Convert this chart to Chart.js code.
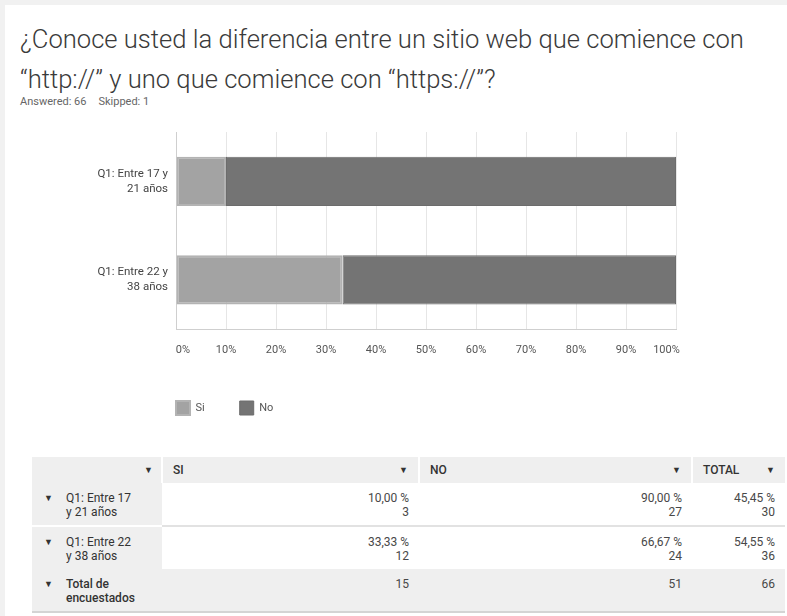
<!DOCTYPE html>
<html lang="es">
<head>
<meta charset="utf-8">
<script src="https://cdn.jsdelivr.net/npm/chart.js@4/dist/chart.umd.min.js"></script>
<style>
  html, body { margin: 0; padding: 0; }
  body { width: 787px; height: 616px; background: #f1f1f1; font-family: Roboto, "Noto Sans", sans-serif; overflow: hidden; }
  #panel { position: absolute; left: 5px; top: 5px; width: 782px; height: 611px; background: #fff; }
  h1 { position: absolute; left: 15px; top: 14px; margin: 0; width: 760px; font-weight: 300; font-size: 25.6px; line-height: 40px; color: #3a3a3a; }
  #meta { position: absolute; left: 15px; top: 90px; font-size: 11px; color: #666; }
  #meta span + span { margin-left: 12px; }
  #chart-wrap { position: absolute; left: -5px; top: 115px; width: 787px; height: 305px; }
  table { position: absolute; left: 27px; top: 452px; width: 753px; border-collapse: collapse; font-size: 12px; color: #484848; }
  th, td { padding: 0 10px; vertical-align: top; }
  th { background: #efefef; height: 26px; text-align: left; font-weight: 500; color: #333; border-left: 2px solid #fff; line-height: 26px; }
  th:first-child { border-left: none; }
  th .arr, td .arr { font-size: 9px; color: #333; }
  th .arr { float: right; }
  td { text-align: right; line-height: 14px; padding-top: 8px; height: 34px; }
  td.lbl { text-align: left; background: #efefef; color: #333; padding-left: 12px; }
  td.lbl .arr { display: inline-block; width: 22px; vertical-align: top; }
  td.lbl .txt { display: inline-block; }
  tr.r1 td { border-bottom: 2px solid #e2e2e2; }
  tr.r1 td.lbl { border-bottom: 2px solid #fff; }
  tr.tot td { background: #efefef; border-bottom: 2px solid #d4d4d4; height: 34px; }
</style>
</head>
<body>
<div id="panel">
  <h1>¿Conoce usted la diferencia entre un sitio web que comience con “http://” y uno que comience con “https://”?</h1>
  <div id="meta"><span id="answered"></span><span id="skipped"></span></div>
  <div id="chart-wrap"><canvas id="survey-chart"></canvas></div>
  <table id="survey-table"></table>
</div>
<script>
// answer groups and values
const groups = [['Q1: Entre 17 y', '21 años'], ['Q1: Entre 22 y', '38 años']];
const groupRows = [['Q1: Entre 17', 'y 21 años'], ['Q1: Entre 22', 'y 38 años']];
const answers = ['Si', 'No'];
const siPct = [10.00, 33.33];
const noPct = [90.00, 66.67];
const siCount = [3, 12];
const noCount = [27, 24];
const totalPct = [45.45, 54.55];
const totalCount = [30, 36];
const columnTotals = [15, 51, 66];
const answered = 66;
const skipped = 1;
const xTicks = [0, 10, 20, 30, 40, 50, 60, 70, 80, 90, 100];

document.getElementById('answered').textContent = 'Answered: ' + answered;
document.getElementById('skipped').textContent = 'Skipped: ' + skipped;

const fmt = v => v.toFixed(2).replace('.', ',') + ' %';
const arrow = '▼';

// summary table
let html = '<tr><th style="width:111px;text-align:right;padding-right:8px"><span class="arr">' + arrow + '</span></th>' +
  '<th style="width:235px">SI <span class="arr">' + arrow + '</span></th>' +
  '<th style="width:251px">NO <span class="arr">' + arrow + '</span></th>' +
  '<th>TOTAL <span class="arr">' + arrow + '</span></th></tr>';
groupRows.forEach((g, i) => {
  html += '<tr class="r' + (i + 1) + '"><td class="lbl"><span class="arr">' + arrow + '</span><span class="txt">' + g.join('<br>') + '</span></td>' +
    '<td>' + fmt(siPct[i]) + '<br>' + siCount[i] + '</td>' +
    '<td>' + fmt(noPct[i]) + '<br>' + noCount[i] + '</td>' +
    '<td>' + fmt(totalPct[i]) + '<br>' + totalCount[i] + '</td></tr>';
});
html += '<tr class="tot"><td class="lbl"><span class="arr">' + arrow + '</span><span class="txt" style="font-weight:500">Total de<br>encuestados</span></td>' +
  columnTotals.map(v => '<td>' + v + '</td>').join('') + '</tr>';
document.getElementById('survey-table').innerHTML = html;

// shift legend so the first swatch lines up with the plot's left edge
const legendShift = {
  id: 'legendShift',
  afterLayout(chart) {
    const l = chart.legend;
    const dx = l.options.labels.padding;
    l.left -= dx;
    l.right -= dx;
  }
};

const ctx = document.getElementById('survey-chart');
const surveyChart = new Chart(ctx, {
  type: 'bar',
  data: {
    labels: groups,
    datasets: [{
      label: answers[0],
      data: siPct,
      backgroundColor: '#a3a3a3',
      borderColor: '#b3b3b3',
      borderWidth: 2,
      borderSkipped: false
    }, {
      label: answers[1],
      data: noPct,
      backgroundColor: '#747474',
      borderColor: '#6c6c6c',
      borderWidth: 1,
      borderSkipped: false
    }]
  },
  options: {
    indexAxis: 'y',
    responsive: true,
    maintainAspectRatio: false,
    animation: false,
    barPercentage: 0.5,
    categoryPercentage: 1,
    layout: { padding: { top: 12, right: 111, bottom: 0, left: 0 } },
    scales: {
      x: {
        stacked: true,
        min: 0,
        max: 100,
        afterBuildTicks: s => { s.ticks = xTicks.map(v => ({ value: v })); },
        afterFit: s => { s.height = 37; },
        grid: { color: '#e6e6e6', drawTicks: false },
        border: { color: '#cfcfcf' },
        ticks: {
          padding: 15,
          color: '#555',
          maxRotation: 0,
          minRotation: 0,
          autoSkip: false,
          font: { family: 'Roboto', size: 11 },
          // end labels sit inside the plot edges
          callback: v => v === 0 ? '     0%' : v === 100 ? '100%       ' : v + '%'
        }
      },
      y: {
        stacked: true,
        afterFit: s => { s.width = 176; s.paddingTop = 0; s.paddingBottom = 0; },
        grid: { display: false, drawTicks: false },
        border: { color: '#cfcfcf' },
        ticks: {
          padding: 8,
          color: '#444',
          font: { family: 'Roboto', size: 11.5, lineHeight: 1.3 }
        }
      }
    },
    plugins: {
      legend: {
        position: 'bottom',
        align: 'start',
        fullSize: false,
        labels: {
          boxWidth: 14,
          boxHeight: 14,
          padding: 35,
          color: '#555',
          font: { family: 'Roboto', size: 11 }
        }
      },
      tooltip: { enabled: false }
    }
  },
  plugins: [legendShift]
});
</script>
</body>
</html>
